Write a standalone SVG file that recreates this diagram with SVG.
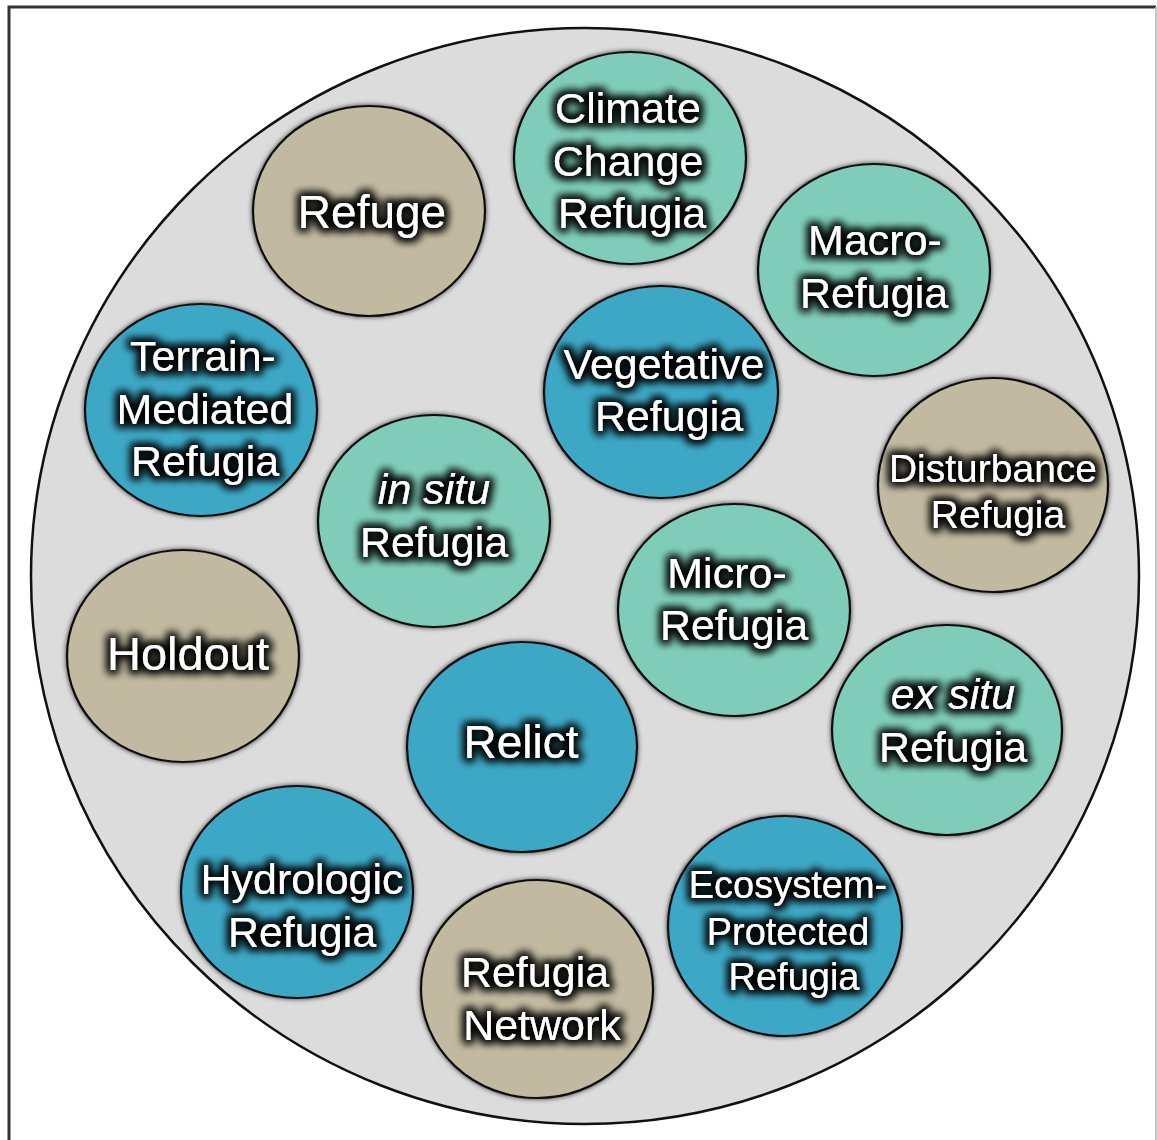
<svg xmlns="http://www.w3.org/2000/svg" width="1157" height="1140" viewBox="0 0 1157 1140">
<style>
.tan{fill:#c1baa0;stroke:#111;stroke-width:2.2}
.grn{fill:#7fcdb8;stroke:#111;stroke-width:2.2}
.blu{fill:#3ea8c6;stroke:#111;stroke-width:2.2}
.node ellipse{filter:url(#cs)}
text{font-family:"Liberation Sans",Arial,sans-serif;fill:#fff;text-anchor:middle;font-size:43px;filter:url(#glow)}
.big{font-size:46px}
.sm{font-size:38px}
.it{font-style:italic}
</style>
<defs>
<filter id="glow" x="-25%" y="-50%" width="150%" height="200%">
<feMorphology in="SourceAlpha" operator="dilate" radius="3" result="d"/>
<feGaussianBlur in="d" stdDeviation="4.5" result="b"/>
<feFlood flood-color="#000" flood-opacity="0.85"/>
<feComposite in2="b" operator="in" result="s"/>
<feMerge><feMergeNode in="s"/><feMergeNode in="s"/><feMergeNode in="SourceGraphic"/></feMerge>
</filter>
<filter id="cs" x="-10%" y="-10%" width="120%" height="120%">
<feGaussianBlur in="SourceAlpha" stdDeviation="2.5" result="b"/>
<feFlood flood-color="#000" flood-opacity="0.75"/>
<feComposite in2="b" operator="in" result="s"/>
<feMerge><feMergeNode in="s"/><feMergeNode in="SourceGraphic"/></feMerge>
</filter>
</defs>
<rect width="1157" height="1140" fill="#fff"/>
<path d="M9,1140 V7 H1156" fill="none" stroke="#333" stroke-width="3"/>
<path d="M1156,7 V1140" fill="none" stroke="#c8c8c8" stroke-width="2"/>
<ellipse id="container" cx="585" cy="576" rx="554" ry="548" fill="#dcdcdc" stroke="#111" stroke-width="2.5"/>
<g id="connectors"></g>
<g id="climate-change-refugia" class="node"><ellipse class="grn" cx="630" cy="158" rx="116" ry="106"/><text x="628" y="123">Climate</text><text x="628" y="176">Change</text><text x="632" y="228">Refugia</text></g>
<g id="refuge" class="node"><ellipse class="tan" cx="369" cy="211" rx="116" ry="105"/><text class="big" x="372" y="228">Refuge</text></g>
<g id="macro-refugia" class="node"><ellipse class="grn" cx="874" cy="270" rx="116" ry="106"/><text x="875" y="255">Macro-</text><text x="874" y="308">Refugia</text></g>
<g id="terrain-mediated-refugia" class="node"><ellipse class="blu" cx="201" cy="410" rx="116" ry="106"/><text x="203" y="371">Terrain-</text><text x="205" y="424">Mediated</text><text x="205" y="476">Refugia</text></g>
<g id="vegetative-refugia" class="node"><ellipse class="blu" cx="661" cy="392" rx="117" ry="106"/><text x="664" y="379">Vegetative</text><text x="669" y="431">Refugia</text></g>
<g id="disturbance-refugia" class="node"><ellipse class="tan" cx="993" cy="485" rx="115" ry="107"/><text x="993" y="482" style="font-size:39px">Disturbance</text><text x="998" y="528" style="font-size:39px">Refugia</text></g>
<g id="in-situ-refugia" class="node"><ellipse class="grn" cx="434" cy="521" rx="116" ry="106"/><text class="it" x="434" y="504">in situ</text><text x="434" y="557">Refugia</text></g>
<g id="micro-refugia" class="node"><ellipse class="grn" cx="734" cy="610" rx="116" ry="106"/><text x="727" y="588">Micro-</text><text x="734" y="640">Refugia</text></g>
<g id="holdout" class="node"><ellipse class="tan" cx="183" cy="656" rx="116" ry="106"/><text class="big" x="188" y="670" style="font-size:47px">Holdout</text></g>
<g id="ex-situ-refugia" class="node"><ellipse class="grn" cx="947" cy="730" rx="115" ry="105"/><text class="it" x="953" y="709">ex situ</text><text x="953" y="762">Refugia</text></g>
<g id="relict" class="node"><ellipse class="blu" cx="522" cy="747" rx="115" ry="105"/><text class="big" x="521" y="758">Relict</text></g>
<g id="hydrologic-refugia" class="node"><ellipse class="blu" cx="297" cy="892" rx="116" ry="106"/><text x="302" y="894">Hydrologic</text><text x="302" y="947">Refugia</text></g>
<g id="refugia-network" class="node"><ellipse class="tan" cx="537" cy="989" rx="116" ry="109"/><text x="535" y="987">Refugia</text><text x="542" y="1040">Network</text></g>
<g id="ecosystem-protected-refugia" class="node"><ellipse class="blu" cx="785" cy="926" rx="117" ry="110"/><text class="sm" x="788" y="898">Ecosystem-</text><text class="sm" x="788" y="945">Protected</text><text class="sm" x="794" y="990">Refugia</text></g>
</svg>
